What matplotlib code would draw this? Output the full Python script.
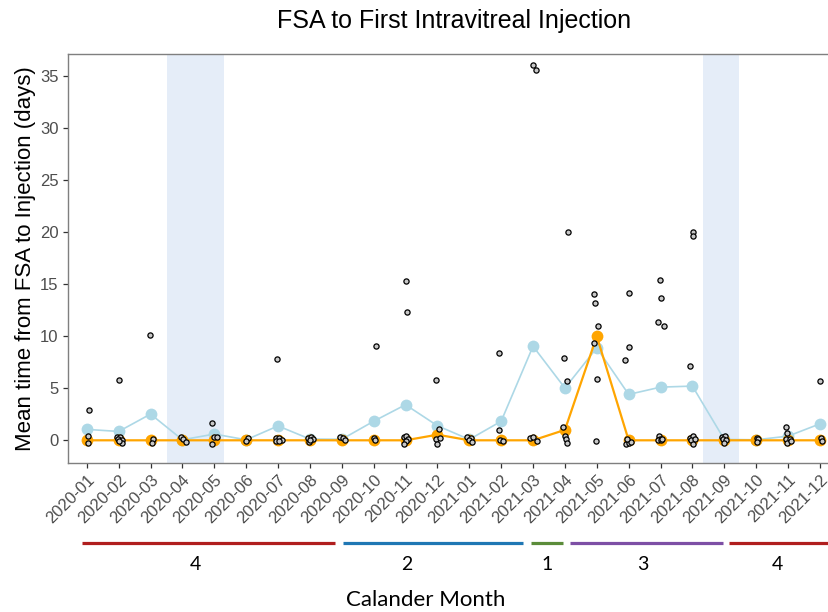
import matplotlib
matplotlib.use('Agg')
import matplotlib.pyplot as plt

# ---- data ----
months = ['2020-01', '2020-02', '2020-03', '2020-04', '2020-05', '2020-06',
          '2020-07', '2020-08', '2020-09', '2020-10', '2020-11', '2020-12',
          '2021-01', '2021-02', '2021-03', '2021-04', '2021-05', '2021-06',
          '2021-07', '2021-08', '2021-09', '2021-10', '2021-11', '2021-12']

mean_days = [1.05, 0.85, 2.52, 0.05, 0.6, 0.05, 1.38, 0.12, 0.1, 1.83, 3.42, 1.4,
             0.08, 1.83, 9.04, 5.02, 8.88, 4.41, 5.11, 5.21, 0.08, 0.05, 0.4, 1.58]

median_days = [0, 0, 0, 0, 0, 0, 0, 0, 0, 0, 0, 0.54,
               0, 0, 0, 1.0, 10.0, 0, 0, 0, 0, 0, 0, 0]

# individual observations: month index, value (days), horizontal jitter
obs_month = [0, 0, 0,
             1, 1, 1, 1, 1, 1, 1,
             2, 2, 2,
             3, 3, 3,
             4, 4, 4, 4,
             5, 5,
             6, 6, 6, 6, 6, 6,
             7, 7, 7, 7, 7,
             8, 8, 8,
             9, 9, 9,
             10, 10, 10, 10, 10, 10, 10,
             11, 11, 11, 11, 11,
             12, 12, 12, 12,
             13, 13, 13, 13,
             14, 14, 14, 14, 14,
             15, 15, 15, 15, 15, 15, 15,
             16, 16, 16, 16, 16, 16,
             17, 17, 17, 17, 17, 17, 17,
             18, 18, 18, 18, 18, 18, 18, 18, 18,
             19, 19, 19, 19, 19, 19, 19, 19,
             20, 20, 20, 20, 20,
             21, 21, 21,
             22, 22, 22, 22, 22, 22,
             23, 23, 23]
obs_days = [2.88, 0.42, -0.22,
            5.75, 0.3, 0.3, 0.1, 0.0, -0.25, -0.1,
            10.16, 0.16, -0.26,
            0.32, 0.1, -0.16,
            1.7, 0.32, 0.32, -0.32,
            0.22, -0.06,
            7.83, 0.22, 0.26, 0.06, -0.1, -0.1,
            0.22, 0.32, 0.1, -0.16, 0.0,
            0.32, 0.22, 0.06,
            9.04, 0.22, 0.0,
            15.27, 12.3, 0.32, 0.42, 0.1, -0.1, -0.35,
            5.75, 1.06, 0.16, 0.22, -0.32,
            0.32, 0.22, 0.0, -0.16,
            8.37, 0.96, 0.0, -0.1,
            36.05, 35.57, 0.22, 0.32, -0.1,
            20.04, 7.93, 5.72, 1.28, 0.42, 0.1, -0.26,
            14.06, 13.23, 11.0, 9.33, 5.85, -0.06,
            14.19, 9.01, 7.67, -0.32, -0.22, -0.16, 0.1,
            15.37, 13.64, 11.34, 11.02, 0.42, 0.16, 0.0, 0.0, 0.1,
            20.04, 19.6, 7.16, 0.22, 0.38, 0.0, 0.1, -0.32,
            0.32, 0.42, 0.1, 0.0, -0.22,
            0.22, 0.1, -0.16,
            1.28, 0.7, 0.1, 0.1, -0.22, -0.1,
            5.72, 0.22, -0.1]
obs_jitter = [0.08, 0.05, 0.03,
              0.0, -0.06, 0.04, -0.01, 0.09, 0.09, 0.01,
              -0.03, 0.09, 0.06,
              -0.04, 0.03, 0.1,
              -0.08, 0.0, 0.07, -0.08,
              0.05, -0.01,
              -0.02, -0.07, 0.03, 0.115, -0.07, 0.03,
              -0.07, 0.03, 0.09, -0.04, 0.01,
              -0.07, 0.03, 0.09,
              0.08, 0.02, 0.04,
              0.0, 0.04, -0.06, 0.02, 0.09, 0.02, -0.06,
              -0.05, 0.06, -0.06, 0.08, 0.0,
              -0.06, 0.04, -0.01, 0.07,
              -0.07, -0.06, -0.05, 0.05,
              0.0, 0.1, -0.09, 0.01, 0.12,
              0.1, -0.02, 0.06, -0.05, 0.0, 0.02, 0.05,
              -0.09, -0.07, 0.03, -0.09, 0.01, -0.01,
              0.0, 0.01, -0.1, -0.07, 0.01, 0.08, -0.04,
              -0.03, 0.03, -0.08, 0.1, -0.06, -0.03, -0.08, 0.02, 0.05,
              0.02, 0.03, -0.06, -0.08, 0.02, -0.03, 0.07, 0.02,
              -0.07, 0.03, -0.04, 0.06, -0.01,
              0.02, 0.07, 0.02,
              -0.07, -0.03, -0.05, 0.05, -0.03, 0.08,
              0.0, 0.04, 0.07]

# shaded periods (in month-index units)
shade_start = [2.51, 19.34]
shade_end = [4.29, 20.47]

# group bars under the x axis
group_labels = ['4', '2', '1', '3', '4']
group_start = [-0.14, 8.05, 13.93, 15.16, 20.16]
group_end = [7.79, 13.70, 14.95, 19.97, 23.8]
group_label_x = [3.40, 10.05, 14.43, 17.44, 21.67]
group_colors = ['#b01e1e', '#1f77b4', '#5b8c3a', '#7d4fa5', '#b01e1e']

# ---- plot ----
plt.rcParams['font.family'] = ['Liberation Sans', 'DejaVu Sans']

fig = plt.figure(figsize=(8.29, 6.12), dpi=100)
ax = fig.add_axes([0.0824, 0.2440, 0.9297, 0.6673])

for s, e in zip(shade_start, shade_end):
    ax.axvspan(s, e, color='#e5edf8', lw=0, zorder=0)

x = list(range(len(months)))
ax.plot(x, mean_days, color='#add8e6', lw=1.2, zorder=2)
ax.plot(x, mean_days, 'o', color='#add8e6', ms=8.5, mec='none', zorder=2)
ax.plot(x, median_days, color='#ffa500', lw=1.6, zorder=3)
ax.plot(x, median_days, 'o', color='#ffa500', ms=8.5, mec='none', zorder=3)

obs_x = [m + j for m, j in zip(obs_month, obs_jitter)]
ax.scatter(obs_x, obs_days, s=14, facecolor='#c8c8c8', edgecolor='black',
           linewidth=0.9, zorder=4)

ax.set_xlim(-0.58, 23.6)
ax.set_ylim(-2.15, 37.1)
ax.set_yticks(range(0, 36, 5))
ax.set_xticks(x)
ax.set_xticklabels(months, rotation=45, ha='right', va='top',
                   rotation_mode='anchor')
ax.tick_params(colors='#333333', labelcolor='#4d4d4d', labelsize=12,
               length=3.5, width=0.9)
for spine in ax.spines.values():
    spine.set_color('#7f7f7f')
    spine.set_linewidth(1.0)

ax.set_title('FSA to First Intravitreal Injection', fontsize=18, pad=19)
ax.set_ylabel('Mean time from FSA to Injection (days)', fontsize=16,
              labelpad=3)

# group bars and labels below the axis
tr = ax.get_xaxis_transform()
for lab, s, e, lx, c in zip(group_labels, group_start, group_end,
                            group_label_x, group_colors):
    ax.plot([s, e], [-0.196, -0.196], color=c, lw=2.3, transform=tr,
            clip_on=False, solid_capstyle='butt')
    ax.text(lx, -0.25, lab, transform=tr, ha='center', va='center',
            fontsize=14, family=['Lato', 'DejaVu Sans'])

fig.text(0.513, 0.019, 'Calander Month', ha='center', va='center',
         fontsize=16, family=['Lato', 'DejaVu Sans'])

fig.savefig('out.png', dpi=100)
